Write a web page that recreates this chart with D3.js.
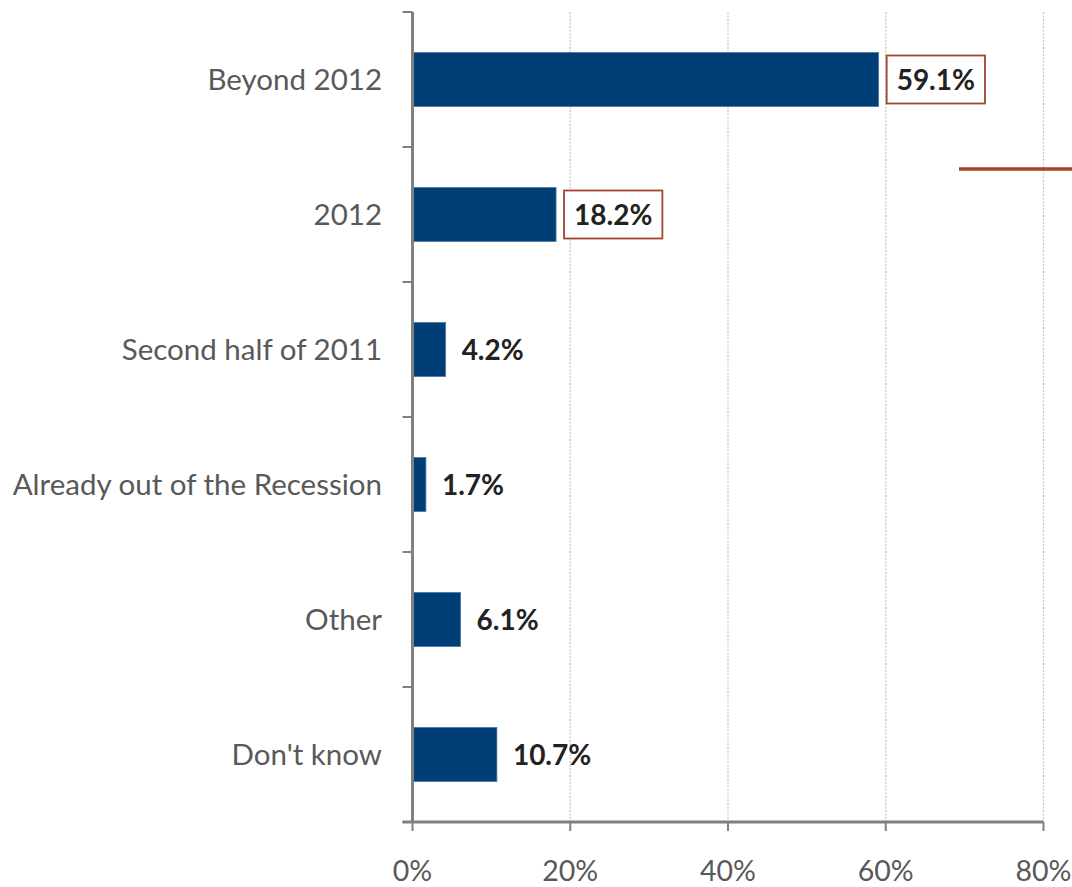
<!DOCTYPE html>
<html><head><meta charset="utf-8">
<script src="https://cdn.jsdelivr.net/npm/d3@7"></script>
<style>body{margin:0;background:#fff}svg{display:block}</style>
</head><body>
<svg id="c" width="1072" height="887"></svg>
<script>
const categories = ["Beyond 2012","2012","Second half of 2011","Already out of the Recession","Other","Don't know"];
const values = [59.1,18.2,4.2,1.7,6.1,10.7];
const boxed = [true,true,false,false,false,false];
const tickValues = [0,20,40,60,80];

(function(){
const svg = d3.select("#c");
const pLeft = 412.5, pRight = 1043.5, pTop = 12, pBottom = 822;
const x = d3.scaleLinear().domain([0,80]).range([pLeft,pRight]);
const y = d3.scaleBand().domain(categories).range([pTop,pBottom]).paddingInner(0.6).paddingOuter(0.3);
const yb = d3.scaleBand().domain(categories).range([pTop,pBottom]);
const font = "Lato, 'Open Sans', sans-serif";

// gridlines
svg.append("g").selectAll("line").data(tickValues.filter(d=>d>0)).join("line")
  .attr("x1",d=>x(d)).attr("x2",d=>x(d)).attr("y1",pTop).attr("y2",pBottom)
  .attr("stroke","#c8c8c8").attr("stroke-width",1.3).attr("stroke-dasharray","2,1.5");

// bars
svg.append("g").selectAll("rect").data(values).join("rect")
  .attr("x",x(0)).attr("y",(d,i)=>y(categories[i]))
  .attr("width",d=>x(d)-x(0)).attr("height",y.bandwidth())
  .attr("fill","#003E76").attr("stroke","#4f77a3").attr("stroke-width",0.8);

// y axis
const ya = svg.append("g");
ya.append("line").attr("x1",pLeft).attr("x2",pLeft).attr("y1",pTop).attr("y2",pBottom).attr("stroke","#808080").attr("stroke-width",3);
ya.selectAll("line.t").data(categories.map(c=>yb(c)).concat([pBottom])).join("line").attr("class","t")
  .attr("x1",pLeft-10).attr("x2",pLeft).attr("y1",d=>d).attr("y2",d=>d).attr("stroke","#808080").attr("stroke-width",2);
ya.selectAll("text").data(categories).join("text")
  .attr("x",382).attr("y",d=>yb(d)+yb.bandwidth()/2).attr("dy","0.35em")
  .attr("text-anchor","end").attr("font-family",font).attr("font-size",29.5).attr("fill","#595959").text(d=>d);

// x axis
const xa = svg.append("g");
xa.append("line").attr("x1",pLeft-10).attr("x2",pRight).attr("y1",pBottom).attr("y2",pBottom).attr("stroke","#808080").attr("stroke-width",3);
xa.selectAll("line.t").data(tickValues).join("line").attr("class","t")
  .attr("x1",d=>x(d)).attr("x2",d=>x(d)).attr("y1",pBottom).attr("y2",pBottom+9).attr("stroke","#808080").attr("stroke-width",2);
xa.selectAll("text").data(tickValues).join("text")
  .attr("x",d=>x(d)).attr("y",881).attr("text-anchor","middle")
  .attr("font-family",font).attr("font-size",28.5).attr("fill","#595959").text(d=>d+"%");

// labels
const lg = svg.append("g");
values.forEach((v,i)=>{
  const cy = y(categories[i]) + y.bandwidth()/2;
  const t = lg.append("text").attr("font-family",font).attr("font-weight","bold").attr("font-size",28)
    .attr("fill","#222").attr("dy","0.36em").attr("y",cy).text(v.toFixed(1)+"%");
  if (boxed[i]) {
    const bx = x(v)+8;
    t.attr("x",bx+10);
    const w = t.node().getComputedTextLength();
    lg.insert("rect","text").attr("x",bx).attr("y",cy-24).attr("width",w+20).attr("height",48)
      .attr("fill","#fff").attr("stroke","#A3442B").attr("stroke-width",1.8);
  } else {
    t.attr("x",x(v)+16);
  }
});

// orange line (clipped legend marker)
svg.append("line").attr("x1",959).attr("x2",1072).attr("y1",169).attr("y2",169)
  .attr("stroke","#A3442B").attr("stroke-width",3.5);
})();
</script>
</body></html>
